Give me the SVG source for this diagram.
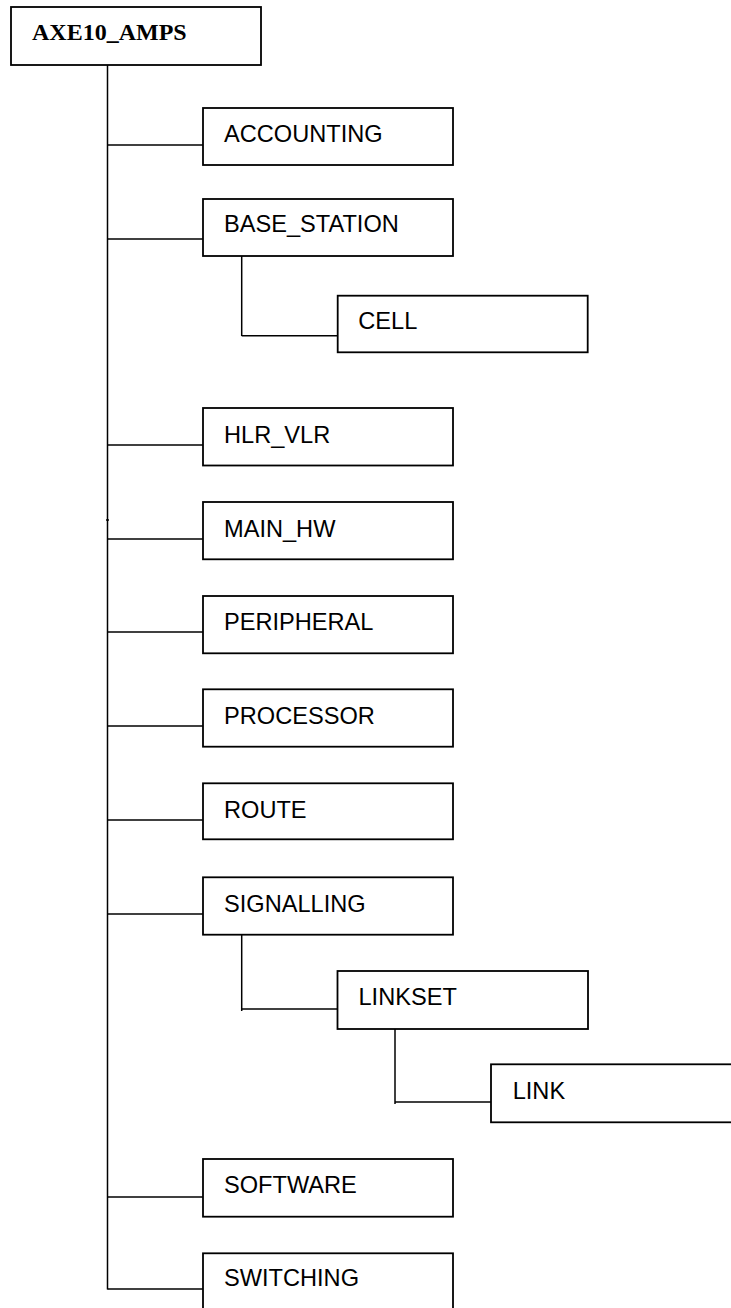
<svg xmlns="http://www.w3.org/2000/svg" width="731" height="1308" viewBox="0 0 731 1308">
<style>
.box{fill:#fff;stroke:#000;stroke-width:1.8}
.lbl{font-family:"Liberation Sans",Arial,sans-serif;font-size:23.6px;fill:#000}
.root{font-family:"Liberation Serif","Times New Roman",serif;font-size:24px;font-weight:bold;fill:#000}
.conn line{stroke:#000;stroke-width:1.5;fill:none}
</style>
<rect width="731" height="1308" fill="#fff"/>
<g id="connectors" class="conn">
<line x1="107.5" y1="65" x2="107.5" y2="1289.5"/>
<line x1="106" y1="520" x2="109" y2="520"/>
<line x1="107.5" y1="145" x2="203" y2="145"/>
<line x1="107.5" y1="239" x2="203" y2="239"/>
<line x1="107.5" y1="445" x2="203" y2="445"/>
<line x1="107.5" y1="539" x2="203" y2="539"/>
<line x1="107.5" y1="632" x2="203" y2="632"/>
<line x1="107.5" y1="726" x2="203" y2="726"/>
<line x1="107.5" y1="820" x2="203" y2="820"/>
<line x1="107.5" y1="914" x2="203" y2="914"/>
<line x1="107.5" y1="1197" x2="203" y2="1197"/>
<line x1="107.5" y1="1289" x2="203" y2="1289"/>
<line x1="241.7" y1="256" x2="241.7" y2="336"/>
<line x1="241.7" y1="335.7" x2="338" y2="335.7"/>
<line x1="241.7" y1="934" x2="241.7" y2="1011"/>
<line x1="241.7" y1="1009" x2="337.5" y2="1009"/>
<line x1="395" y1="1029" x2="395" y2="1104"/>
<line x1="395" y1="1102" x2="491" y2="1102"/>
</g>
<g id="AXE10_AMPS"><rect class="box" x="11" y="7" width="250" height="58"/><text class="root" x="32" y="40">AXE10_AMPS</text></g>
<g id="ACCOUNTING"><rect class="box" x="203" y="108" width="250" height="57"/><text class="lbl" x="224" y="142">ACCOUNTING</text></g>
<g id="BASE_STATION"><rect class="box" x="203" y="199" width="250" height="57"/><text class="lbl" x="224" y="232">BASE_STATION</text></g>
<g id="CELL"><rect class="box" x="337.7" y="295.7" width="250" height="56.6"/><text class="lbl" x="358.3" y="329">CELL</text></g>
<g id="HLR_VLR"><rect class="box" x="203" y="408" width="250" height="57.5"/><text class="lbl" x="224" y="442.7">HLR_VLR</text></g>
<g id="MAIN_HW"><rect class="box" x="203" y="502" width="250" height="57.3"/><text class="lbl" x="224" y="536.7">MAIN_HW</text></g>
<g id="PERIPHERAL"><rect class="box" x="203" y="596" width="250" height="57.3"/><text class="lbl" x="224" y="630">PERIPHERAL</text></g>
<g id="PROCESSOR"><rect class="box" x="203" y="689.3" width="250" height="57.4"/><text class="lbl" x="224" y="724">PROCESSOR</text></g>
<g id="ROUTE"><rect class="box" x="203" y="783.3" width="250" height="56"/><text class="lbl" x="224" y="818">ROUTE</text></g>
<g id="SIGNALLING"><rect class="box" x="203" y="877.3" width="250" height="57.4"/><text class="lbl" x="224" y="911.7">SIGNALLING</text></g>
<g id="LINKSET"><rect class="box" x="337.5" y="971" width="250.5" height="58"/><text class="lbl" x="358.5" y="1005">LINKSET</text></g>
<g id="LINK"><rect class="box" x="491" y="1064.3" width="250" height="58"/><text class="lbl" x="512.7" y="1099.3">LINK</text></g>
<g id="SOFTWARE"><rect class="box" x="203" y="1159" width="250" height="57.7"/><text class="lbl" x="224" y="1192.7">SOFTWARE</text></g>
<g id="SWITCHING"><rect class="box" x="203" y="1253.3" width="250" height="60"/><text class="lbl" x="224" y="1285.7">SWITCHING</text></g>
</svg>
